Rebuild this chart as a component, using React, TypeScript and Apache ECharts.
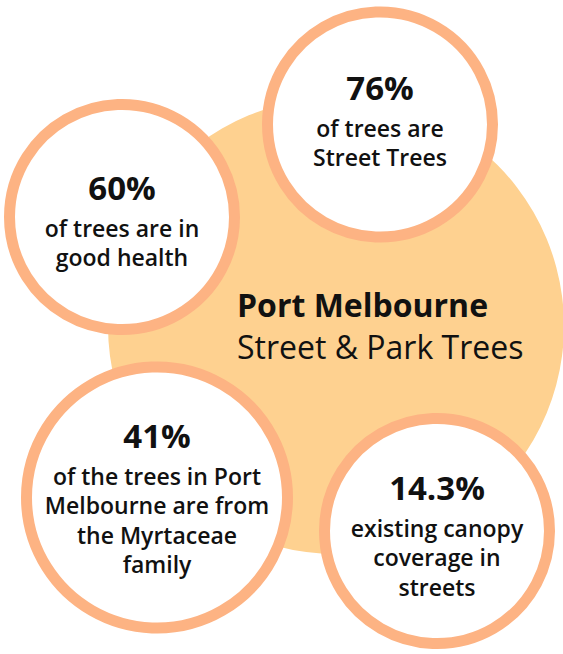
import React, { useEffect, useRef } from "react";
import * as echarts from "echarts";

// ---- data ----
const titleLines = ["Port Melbourne", "Street & Park Trees"];
const statValues = ["76%", "60%", "41%", "14.3%"];
const statLabels: string[][] = [
  ["of trees are", "Street Trees"],
  ["of trees are in", "good health"],
  ["of the trees in Port", "Melbourne are from", "the Myrtaceae", "family"],
  ["existing canopy", "coverage in", "streets"],
];

// ---- layout (positions / sizes) ----
const bubbleLayout = [
  { cx: 380, cy: 124.5, r: 118, numBase: 100 },
  { cx: 122, cy: 217, r: 118, numBase: 200 },
  { cx: 157, cy: 497.5, r: 136, numBase: 448 },
  { cx: 437, cy: 531, r: 118, numBase: 500 },
];
const bigCircle = { cx: 336, cy: 326, r: 228 };

const FONT = '"Open Sans", "Noto Sans", sans-serif';
const RING = "#FDB383";
const BIG = "#FED190";
const TEXT = "#111111";

// central baseline offset (Open Sans): baseline - 0.388em
const mid = (baseline: number, size: number) => baseline - 0.388 * size;

export default function App() {
  const ref = useRef<HTMLDivElement>(null);
  useEffect(() => {
    document.body.style.margin = "0";
    if (!ref.current) return;
    const chart = echarts.init(ref.current, undefined, { renderer: "svg" });
    const elements: any[] = [];
    elements.push({
      type: "circle",
      shape: { cx: bigCircle.cx, cy: bigCircle.cy, r: bigCircle.r },
      style: { fill: BIG },
      z: 1,
    });
    bubbleLayout.forEach((b, i) => {
      const lw = 11;
      elements.push({
        type: "circle",
        shape: { cx: b.cx, cy: b.cy, r: b.r - lw / 2 },
        style: { fill: "#ffffff", stroke: RING, lineWidth: lw },
        z: 2,
      });
      elements.push({
        type: "text",
        z: 3,
        style: {
          text: statValues[i],
          x: b.cx,
          y: mid(b.numBase, 33),
          align: "center",
          verticalAlign: "middle",
          font: `bold 33px ${FONT}`,
          fill: TEXT,
        },
      });
      statLabels[i].forEach((line, j) => {
        const base = b.numBase + 37 + j * 29.3;
        elements.push({
          type: "text",
          z: 3,
          style: {
            text: line,
            x: b.cx,
            y: mid(base, 23),
            align: "center",
            verticalAlign: "middle",
            font: `600 23px ${FONT}`,
            fill: TEXT,
          },
        });
      });
    });
    elements.push({
      type: "text",
      z: 3,
      style: {
        text: titleLines[0],
        x: 237,
        y: mid(316.7, 32),
        align: "left",
        verticalAlign: "middle",
        font: `bold 32px ${FONT}`,
        fill: TEXT,
      },
    });
    elements.push({
      type: "text",
      z: 3,
      style: {
        text: titleLines[1],
        x: 237,
        y: mid(359, 32),
        align: "left",
        verticalAlign: "middle",
        font: `32px ${FONT}`,
        fill: TEXT,
      },
    });
    chart.setOption({
      animation: false,
      backgroundColor: "#ffffff",
      graphic: { elements },
    });
    return () => chart.dispose();
  }, []);
  return <div ref={ref} style={{ width: 563, height: 654 }} />;
}
